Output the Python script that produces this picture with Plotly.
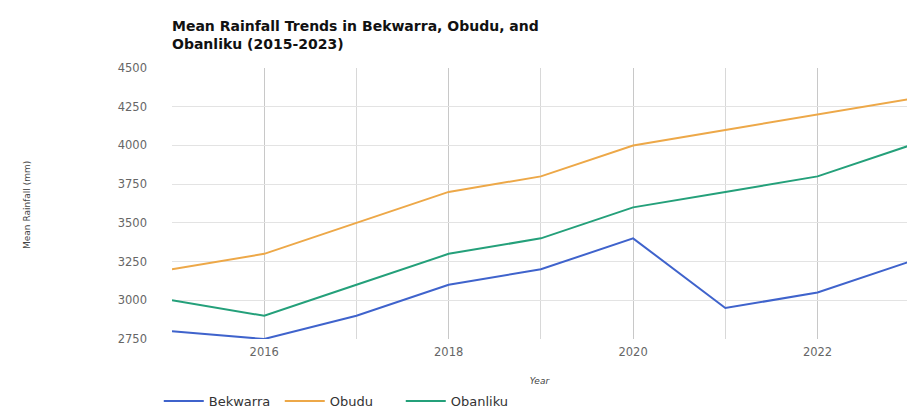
import plotly.graph_objects as go

years = [2015, 2016, 2017, 2018, 2019, 2020, 2021, 2022, 2023]
bekwarra = [2800, 2750, 2900, 3100, 3200, 3400, 2950, 3050, 3250]
obudu = [3200, 3300, 3500, 3700, 3800, 4000, 4100, 4200, 4300]
obanliku = [3000, 2900, 3100, 3300, 3400, 3600, 3700, 3800, 4000]

series = [("Bekwarra", bekwarra, "#3f63cc"), ("Obudu", obudu, "#eda848"), ("Obanliku", obanliku, "#24a07a")]

fig = go.Figure()
for name, vals, col in series:
    fig.add_trace(go.Scatter(x=years, y=vals, mode="lines", name=name,
                             line=dict(color=col, width=2)))

fig.update_layout(
    width=907, height=409,
    margin=dict(l=172, r=0, t=68, b=70, autoexpand=False),
    paper_bgcolor="white", plot_bgcolor="white",
    font=dict(family="DejaVu Sans, Liberation Sans, sans-serif", color="#555"),
    title=dict(text="<b>Mean Rainfall Trends in Bekwarra, Obudu, and<br>Obanliku (2015-2023)</b>",
               x=172/907, xanchor="left", y=1 - 31/409, yanchor="middle",
               font=dict(size=14, color="#111")),
    xaxis=dict(range=[2015, 2022.97], tick0=2016, dtick=2, showgrid=True,
               gridcolor="#c8c8c8", gridwidth=1, zeroline=False,
               minor=dict(dtick=1, tick0=2015, showgrid=True, gridcolor="#d8d8d8"),
               tickfont=dict(size=11.5, color="#666"), ticks="",
               ticklabelstandoff=4, automargin=False,
               title=dict(text="<i>Year</i>", font=dict(size=9, color="#444"), standoff=20)),
    yaxis=dict(range=[2750, 4500], dtick=250, showgrid=True, gridcolor="#e3e3e3",
               zeroline=False, tickfont=dict(size=11.5, color="#666"),
               ticklabelstandoff=24, automargin=False),
    legend=dict(orientation="h", x=-0.018, xanchor="left", y=-(401 - 339) / 271, yanchor="middle",
                font=dict(size=13, color="#333"), itemwidth=40, entrywidth=66),
    showlegend=True,
)
fig.add_annotation(text="Mean Rainfall (mm)", textangle=-90, xref="paper", yref="paper",
                   x=(20 - 172) / 735, y=(339 - 205) / 271, showarrow=False,
                   font=dict(size=9, color="#444"))

fig.write_html("out.html")
